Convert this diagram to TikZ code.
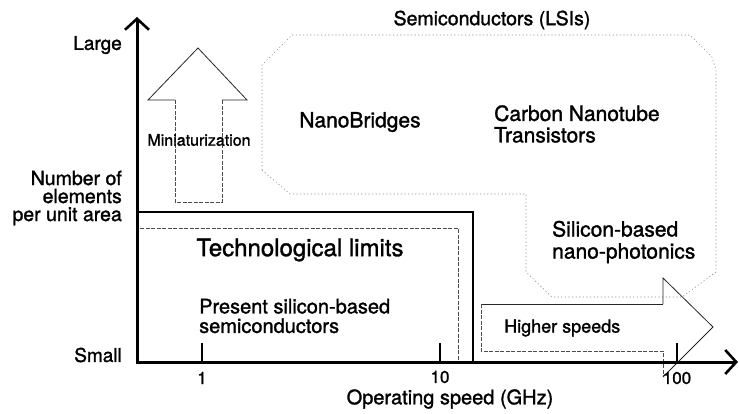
\documentclass[tikz,border=0pt]{standalone}
\usepackage{fontspec}
\setmainfont{TeX Gyre Heros}
\newfontfamily\medfont{TeX Gyre Heros}[FakeBold=1.4]
\usetikzlibrary{arrows.meta}
\newcommand{\myfs}[2]{\medfont\fontsize{#1}{#2}\selectfont}
\begin{document}
\begin{tikzpicture}[x=1pt,y=-1pt,
  axis/.style={line width=3pt,-{Straight Barb[length=11pt,width=24pt,line width=2.6pt]}},
  tickline/.style={line width=2.6pt},
  limbox/.style={line width=1.5pt},
  limdash/.style={line width=0.7pt,dash pattern=on 4pt off 1.5pt,black!70},
  lsi/.style={line width=0.6pt,dash pattern=on 1.2pt off 2.4pt,black!45},
  outl/.style={line width=0.8pt,black!85},
  outldash/.style={line width=0.7pt,dash pattern=on 4pt off 1.5pt,black!70},
  lbl/.style={inner sep=0pt,font=\myfs{20}{21}},
]
\useasboundingbox (0,0) rectangle (740,413);

% LSI region outline
\draw[lsi] (262,170) -- (262,65) -- (292,35) -- (690,35) -- (712,57) -- (716,70)
  -- (716,272) -- (682,297) -- (552,297) -- (526,272) -- (526,194) -- (290,194) -- cycle;

% technological limits boxes
\coordinate (lt1) at (137,212);
\coordinate (lt2) at (473,212);
\coordinate (lt3) at (473,362);
\draw[limbox] (lt1) -- (lt2) -- (lt3);
\coordinate (ld1) at (140,228);
\coordinate (ld2) at (458,228);
\coordinate (ld3) at (458,362);
\draw[limdash] (ld1) -- (ld2) -- (ld3);

% Miniaturization arrow
\coordinate (m1) at (175,100);
\coordinate (m2) at (148,100);
\coordinate (m3) at (198,48);
\coordinate (m4) at (247,100);
\coordinate (m5) at (222,100);
\coordinate (m6) at (222,202);
\coordinate (m7) at (175,202);
\draw[outl] (m1) -- (m2) -- (m3) -- (m4) -- (m5);
\draw[outldash] (m5) -- (m6) -- (m7) -- (m1);

% Higher speeds arrow
\coordinate (h1) at (663,304);
\coordinate (h2) at (481,304);
\coordinate (h3) at (481,351);
\coordinate (h4) at (663,351);
\coordinate (h5) at (663,278);
\coordinate (h6) at (713,327);
\coordinate (h7) at (663,377);
\draw[outl] (h1) -- (h2);
\draw[outldash] (h2) -- (h3) -- (h4) -- (h7);
\draw[outl] (h7) -- (h6) -- (h5) -- (h1);

% axes
\coordinate (O) at (137,362);
\coordinate (ytop) at (137,17);
\coordinate (xend) at (738,362);
\draw[axis,shorten <=-1.5pt] (O) -- (ytop);
\draw[axis,shorten <=-1.5pt] (O) -- (xend);

% ticks
\coordinate (t1) at (202,362);
\coordinate (t1e) at (202,343);
\coordinate (t10) at (440,362);
\coordinate (t10e) at (440,343);
\coordinate (t100) at (677,362);
\coordinate (t100e) at (677,343);
\draw[tickline] (t1) -- (t1e);
\draw[tickline] (t10) -- (t10e);
\draw[tickline] (t100) -- (t100e);

% labels
\node[lbl,font=\myfs{17}{18}] (n1) at (202,378) {1};
\node[lbl,font=\myfs{17}{18}] (n10) at (440,377) {10};
\node[lbl,font=\myfs{17}{18}] (n100) at (677,378) {100};
\node[lbl] (xlab) at (450,399) {Operating speed (GHz)};

\node[lbl,font=\myfs{19}{20},anchor=east] (large) at (122,45) {Large};
\node[lbl,font=\myfs{19.5}{18},anchor=east,align=right] (ylab) at (122,198) {Number of\\elements\\per unit area};
\node[lbl,font=\myfs{19}{20},anchor=east] (small) at (122,355) {Small};

\node[lbl,font=\myfs{19.5}{20}] (lsit) at (492,20) {Semiconductors (LSIs)};
\node[lbl,font=\myfs{16}{17}] (mini) at (199,140) {Miniaturization};
\node[lbl,font=\myfs{21}{22}] (nb) at (360,122) {NanoBridges};
\node[lbl,font=\myfs{21}{21.5},anchor=west,align=left] (cnt) at (494,124) {Carbon Nanotube\\Transistors};
\node[lbl,font=\myfs{24}{25}] (tl) at (300,250) {Technological limits};
\node[lbl,font=\myfs{20}{19.5},anchor=west,align=left] (psb) at (199,316) {Present silicon-based\\semiconductors};
\node[lbl,font=\myfs{21}{22},anchor=west,align=left] (sbn) at (552,242) {Silicon-based\\nano-photonics};
\node[lbl,font=\myfs{18}{19},anchor=west] (hs) at (504,328) {Higher speeds};
\end{tikzpicture}
\end{document}
